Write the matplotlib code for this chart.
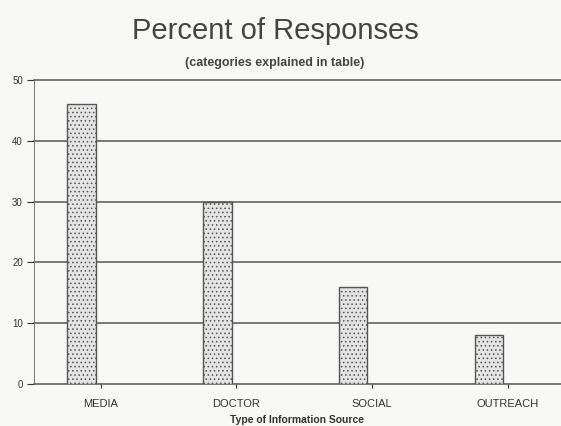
import matplotlib.pyplot as plt
import numpy as np

plt.rcParams['font.family'] = ['Liberation Sans', 'DejaVu Sans']
plt.rcParams['hatch.color'] = '#8a8a8a'
plt.rcParams['hatch.linewidth'] = 0.6

categories = ['MEDIA', 'DOCTOR', 'SOCIAL', 'OUTREACH']
percent = [46, 30, 16, 8]
yticks = [0, 10, 20, 30, 40, 50]

bg = '#f8f8f6'
fig = plt.figure(figsize=(5.61, 4.26), dpi=100, facecolor=bg)
ax = fig.add_axes([0.0606, 0.0986, 0.9394, 0.7134], facecolor=bg)

x = np.arange(len(categories))
ax.bar(x - 0.14, percent, width=0.21, color='#e4e4e4', edgecolor='#555555',
       linewidth=1.0, hatch='....', zorder=3)

for y in yticks[1:]:
    ax.axhline(y, color='#555555', linewidth=1.1, zorder=1, clip_on=False)

ax.set_xlim(-0.49, 3.39)
ax.set_ylim(0, 50)
ax.set_yticks(yticks)
ax.set_xticks(x)
ax.set_xticklabels(categories, fontsize=8, color='#333333')
ax.tick_params(axis='y', labelsize=7, colors='#333333', length=5, width=0.8, pad=3)
ax.tick_params(axis='x', length=3, width=0.8, pad=8, colors='#333333')

for side in ['top', 'right']:
    ax.spines[side].set_visible(False)
ax.spines['left'].set_color('#777777')
ax.spines['left'].set_linewidth(0.7)
ax.spines['bottom'].set_color('#555555')
ax.spines['bottom'].set_linewidth(1.1)

ax.set_xlabel('Type of Information Source', fontsize=7.5, fontweight='bold',
              color='#333333', labelpad=4)

fig.text(0.49, 0.927, 'Percent of Responses', ha='center', va='center',
         fontsize=21, color='#444444')
fig.text(0.49, 0.853, '(categories explained in table)', ha='center', va='center',
         fontsize=9, fontweight='bold', color='#444444')

fig.savefig('out.png', dpi=100, facecolor=bg)
